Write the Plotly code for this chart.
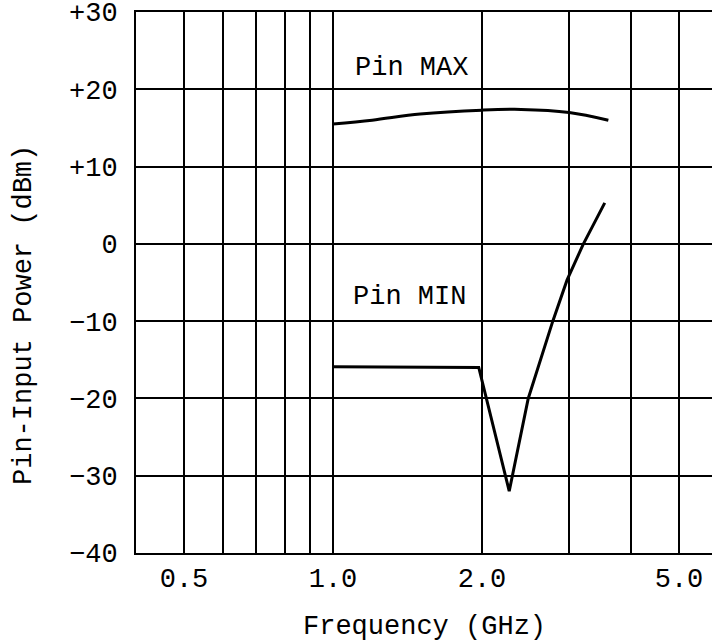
import math
import plotly.graph_objects as go

# ---- data ----
freq_max = [1.0, 1.2, 1.5, 2.0, 2.4, 3.0, 3.6]          # GHz
pin_max = [15.5, 16.0, 16.8, 17.3, 17.4, 17.0, 16.0]    # dBm

freq_min = [1.0, 1.97, 2.27, 2.48, 2.78, 2.97, 3.2, 3.54]
pin_min = [-15.9, -16.0, -32.0, -20.0, -10.0, -4.7, -0.1, 5.3]

x_grid = [0.5, 0.6, 0.7, 0.8, 0.9, 1.0, 2.0, 3.0, 4.0, 5.0]
x_ticktext = ["0.5", "", "", "", "", "1.0", "2.0", "", "", "5.0"]
y_ticks = [30, 20, 10, 0, -10, -20, -30, -40]
y_ticktext = ["+30", "+20", "+10", "0", "\u221210", "\u221220", "\u221230", "\u221240"]

x_range = [0.4, 5.83]
y_range = [-40, 30]

FONT = "Liberation Mono, Courier New, monospace"

fig = go.Figure()
fig.add_trace(go.Scatter(x=freq_max, y=pin_max, mode="lines",
                         line=dict(color="black", width=3, shape="spline"),
                         showlegend=False, hoverinfo="skip"))
fig.add_trace(go.Scatter(x=freq_min, y=pin_min, mode="lines",
                         line=dict(color="black", width=3),
                         showlegend=False, hoverinfo="skip"))

fig.add_annotation(x=math.log10(1.89), y=22.8, text="Pin MAX", showarrow=False,
                   xanchor="right", yanchor="middle",
                   font=dict(family=FONT, size=27, color="black"))
fig.add_annotation(x=math.log10(1.875), y=-6.9, text="Pin MIN", showarrow=False,
                   xanchor="right", yanchor="middle",
                   font=dict(family=FONT, size=27, color="black"))

# axis titles
fig.add_annotation(xref="paper", yref="paper", x=(424 - 136) / 576, y=-(627 - 553) / 541,
                   text="Frequency (GHz)", showarrow=False, xanchor="center", yanchor="middle",
                   font=dict(family=FONT, size=27, color="black"))
fig.add_annotation(xref="paper", yref="paper", x=-(136 - 24) / 576, y=(553 - 315) / 541,
                   text="Pin-Input Power (dBm)", showarrow=False, textangle=-90,
                   xanchor="center", yanchor="middle",
                   font=dict(family=FONT, size=27, color="black"))

fig.update_xaxes(type="log", range=[math.log10(x_range[0]), math.log10(x_range[1])],
                 tickvals=x_grid, ticktext=x_ticktext,
                 showgrid=True, gridcolor="black", gridwidth=2,
                 showline=True, linecolor="black", linewidth=2, mirror=True,
                 ticks="", ticklabelstandoff=0, ticklabeloverflow="allow",
                 tickfont=dict(family=FONT, size=27, color="black"),
                 zeroline=False, automargin=False)
fig.update_yaxes(range=y_range, tickvals=y_ticks, ticktext=y_ticktext,
                 showgrid=True, gridcolor="black", gridwidth=2,
                 showline=True, linecolor="black", linewidth=2, mirror=False,
                 ticks="", ticklabelstandoff=11, ticklabeloverflow="allow",
                 tickfont=dict(family=FONT, size=27, color="black"),
                 zeroline=False, automargin=False)

fig.update_layout(width=712, height=644,
                  margin=dict(l=136, r=0, t=12, b=91),
                  paper_bgcolor="white", plot_bgcolor="white",
                  showlegend=False)

fig.write_html("out.html", config={"displayModeBar": False},
               post_script="document.body.style.margin='0';document.body.style.overflow='hidden';")
